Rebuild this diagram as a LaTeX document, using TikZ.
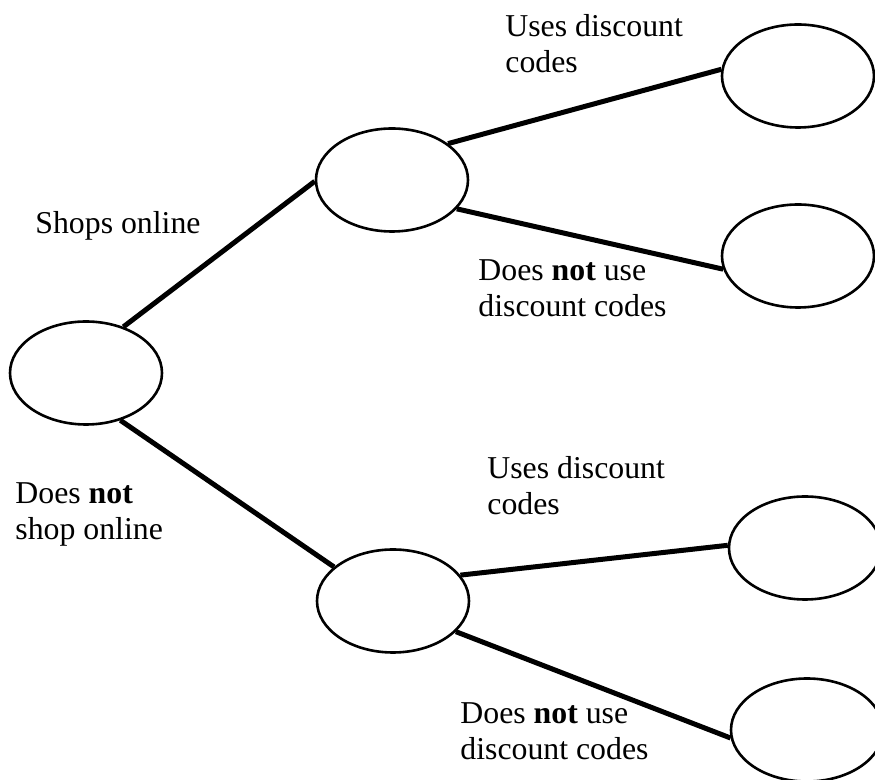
\documentclass[tikz,border=0pt]{standalone}
\usepackage{fontspec}
\setmainfont{Liberation Serif}
\usetikzlibrary{shapes.geometric}

\tikzset{
  choice/.style={ellipse, draw, line width=1.3pt, minimum width=76pt, minimum height=51.5pt, inner sep=0pt},
  branch/.style={line width=2.5pt},
  lbl/.style={anchor=base west, align=left, inner sep=0pt}
}

\begin{document}
\begin{tikzpicture}[-, x=0.5pt, y=-0.5pt, font=\fontsize{15.9}{18.4}\selectfont]
        \useasboundingbox (0,0) rectangle (875,780);

        \node[choice](Root) at (86, 373){};

        \node[choice](On) at (392, 180){};
        \node[choice](On_d1) at (798, 76){};
        \node[choice](On_d2) at (798, 256){};

        \node[choice](Off) at (393, 601){};
        \node[choice](Off_d1) at (805, 548){};
        \node[choice](Off_d2) at (807, 730){};

        \path(Root.51) edge [branch] (On.181);
        \path(Root.306) edge [branch] (Off.150);

        \path(On.33) edge [branch] (On_d1.175);
        \path(On.336) edge [branch] (On_d2.190);

        \path(Off.21) edge [branch] (Off_d1.178);
        \path(Off.334) edge [branch] (Off_d2.186);

        % base of a two-line label is its last line
        \node[lbl](L_on) at (35, 234){Shops online};
        \node[lbl](L_off) at (15, 540){Does \textbf{not}\\shop online};

        \node[lbl](L_on_d1) at (505, 73){Uses discount\\codes};
        \node[lbl](L_on_d2) at (478, 317){Does \textbf{not} use\\discount codes};

        \node[lbl](L_off_d1) at (487, 515){Uses discount\\codes};
        \node[lbl](L_off_d2) at (460, 760){Does \textbf{not} use\\discount codes};

    \end{tikzpicture}
\end{document}
